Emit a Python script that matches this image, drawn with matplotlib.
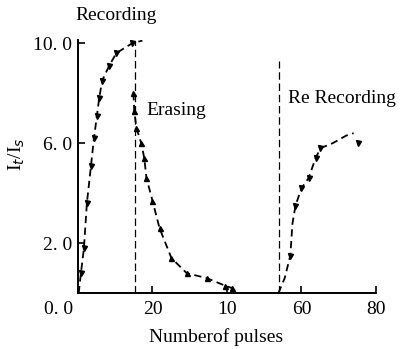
import matplotlib
matplotlib.use("Agg")
import matplotlib.pyplot as plt

plt.rcParams['font.family'] = ['Liberation Serif', 'DejaVu Serif']

# recording phase: measured points and dashed guide through them
rec_x = [0.8, 1.6, 2.4, 3.5, 4.3, 5.1, 5.7, 6.5, 8.4, 10.3, 14.6]
rec_y = [0.8, 1.8, 3.6, 5.1, 6.2, 7.1, 7.8, 8.5, 9.1, 9.6, 10.0]
rec_curve_x = [0.2, 0.8, 1.6, 2.4, 3.5, 4.3, 5.1, 5.7, 6.5, 8.4, 10.3, 14.6, 17.3]
rec_curve_y = [0.0, 0.8, 1.8, 3.6, 5.1, 6.2, 7.1, 7.8, 8.5, 9.1, 9.6, 10.0, 10.1]

# erasing phase
er_x = [14.9, 15.1, 15.7, 17.0, 17.8, 18.4, 20.0, 21.9, 25.1, 29.2, 34.6, 39.5, 41.4]
er_y = [8.0, 7.3, 6.6, 6.0, 5.4, 4.6, 3.7, 2.6, 1.4, 0.8, 0.6, 0.3, 0.2]

# re-recording phase
re_x = [57.0, 58.4, 60.0, 61.9, 63.8, 65.1, 75.1]
re_y = [1.5, 3.5, 4.2, 4.6, 5.4, 5.8, 6.0]
re_curve_x = [53.8, 55.5, 57.0, 57.6, 58.4, 60.0, 61.9, 63.8, 65.1, 68.4, 72.0, 74.0]
re_curve_y = [0.0, 0.6, 1.5, 2.8, 3.5, 4.2, 4.6, 5.4, 5.8, 6.0, 6.3, 6.4]

# phase boundaries
switch_x = [15.2, 53.9]
switch_top = [10.1, 9.3]

y_ticks = [2, 6, 10]
y_labels = ["2. 0", "6. 0", "10. 0"]
x_ticks = [20, 40, 60, 80]
x_labels = ["20", "10", "60", "80"]

fs = 14

fig = plt.figure(figsize=(4.06, 3.49), dpi=100)
ax = fig.add_axes([0.192, 0.160, 0.734, 0.725])

dash = (0, (4, 2.5))
ax.plot(rec_curve_x, rec_curve_y, color='black', lw=1.3, linestyle=dash)
ax.plot(rec_x, rec_y, linestyle='none', marker='v', color='black', ms=3.6)
ax.plot(er_x, er_y, color='black', lw=1.3, linestyle=dash, marker='^', ms=3.6)
ax.plot(re_curve_x, re_curve_y, color='black', lw=1.3, linestyle=dash)
ax.plot(re_x, re_y, linestyle='none', marker='v', color='black', ms=3.6)

for xv, top in zip(switch_x, switch_top):
    ax.plot([xv, xv], [0, top], color='black', lw=0.9, linestyle=(0, (6, 3)))

ax.set_xlim(0, 80)
ax.set_ylim(0, 10.12)
ax.spines['top'].set_visible(False)
ax.spines['right'].set_visible(False)
ax.spines['left'].set_linewidth(1.4)
ax.spines['bottom'].set_linewidth(1.4)

ax.set_yticks(y_ticks)
ax.set_yticklabels(y_labels)
ax.set_xticks(x_ticks)
ax.set_xticklabels(x_labels)
ax.tick_params(direction='in', length=5, width=1.2, labelsize=fs)
ax.tick_params(axis='y', pad=4)
ax.tick_params(axis='x', pad=6)
ax.annotate("0. 0", xy=(0, 0), xytext=(-14, -6), textcoords='offset points',
            ha='center', va='top', fontsize=fs, annotation_clip=False)

ax.text(-0.8, 11.1, "Recording", fontsize=fs, ha='left', va='center', clip_on=False)
ax.text(18.5, 7.3, "Erasing", fontsize=fs, ha='left', va='center')
ax.text(56.5, 7.8, "Re Recording", fontsize=fs, ha='left', va='center')

ax.set_xlabel("Numberof pulses", fontsize=fs)
ax.xaxis.set_label_coords(0.465, -0.14)
ax.set_ylabel("I$_t$/I$_s$", fontsize=fs)
ax.yaxis.set_label_coords(-0.17, 0.55)

fig.savefig("out.png", dpi=100)
